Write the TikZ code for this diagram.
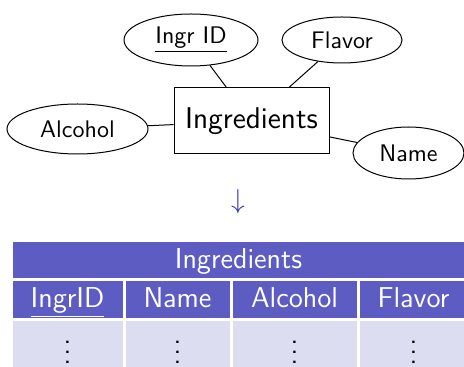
\documentclass[tikz,border=0pt]{standalone}
\usetikzlibrary{shapes.geometric,positioning}
\definecolor{tabhead}{RGB}{92,92,194}
\definecolor{tabrow}{RGB}{221,221,242}
\definecolor{mapblue}{RGB}{51,51,179}
\tikzstyle{entity}=[draw, thin, rectangle, minimum width=62pt,
  minimum height=26.4pt, inner sep=0pt, font=\sffamily\fontsize{12}{14}\selectfont]
\tikzstyle{attribute}=[draw, thin, ellipse, inner sep=0pt,
  font=\sffamily\fontsize{9.6}{11.5}\selectfont]
\tikzstyle{cell}=[anchor=north west, inner sep=0pt,
  font=\sffamily\fontsize{11.5}{14}\selectfont]
\tikzstyle{headcell}=[cell, fill=tabhead, text=white, minimum height=14.8pt,
  text height=10.3pt, text depth=3.5pt]
\tikzstyle{rowcell}=[cell, fill=tabrow, minimum height=19.2pt]
\tikzstyle{link}=[draw, thin]
\newcommand{\attrib}[4]{node (#1) [attribute, minimum width=#2,
  minimum height=#3] {#4}}
\newcommand{\colcell}[3]{node (#1) [headcell, minimum width=#2] {#3}}
\newcommand{\dotcell}[2]{node (#1) [rowcell, minimum width=#2] {$\vdots$}}

\begin{document}
\begin{tikzpicture}[x=0.4pt,y=0.4pt]
  \useasboundingbox (0,0) rectangle (464,366);

  % entity with its attributes
  \node (ingr) [entity] at (251.5,245) {Ingredients};
  \path (ingr.center)+(-60.5,81) \attrib{ingrid}{53.6pt}{20.8pt}{\underline{Ingr ID}};
  \path (ingr.center)+(90.5,81) \attrib{flavor}{48pt}{18.4pt}{Flavor};
  \path (ingr.center)+(-174,-8) \attrib{alcohol}{56.4pt}{20pt}{Alcohol};
  \path (ingr.center)+(157,-32) \attrib{name}{44.4pt}{20.8pt}{Name};

  %attribute links
  \path [link] (ingrid) -- (ingr);
  \path [link] (flavor) -- (ingr);
  \path [link] (alcohol) -- (ingr);
  \path [link] (name) -- (ingr);

  % mapping to the relation
  \path (ingr.center)+(-13.5,-81) node (maps) [text=mapblue,
    font=\fontsize{11}{13}\selectfont] {$\downarrow$};

  % relation table
  \node (title) [headcell, minimum width=180.8pt, minimum height=14.4pt]
    at (12,125) {Ingredients};
  \path (title.south west)+(0,-2) \colcell{hid}{44pt}{\underline{IngrID}};
  \path (hid.north east)+(2,0) \colcell{hname}{41.6pt}{Name};
  \path (hname.north east)+(2,0) \colcell{halc}{49.6pt}{Alcohol};
  \path (halc.north east)+(2,0) \colcell{hflav}{43.2pt}{Flavor};

  \path (hid.south west)+(0,-2) \dotcell{rid}{44pt};
  \path (hname.south west)+(0,-2) \dotcell{rname}{41.6pt};
  \path (halc.south west)+(0,-2) \dotcell{ralc}{49.6pt};
  \path (hflav.south west)+(0,-2) \dotcell{rflav}{43.2pt};

\end{tikzpicture}
\end{document}
